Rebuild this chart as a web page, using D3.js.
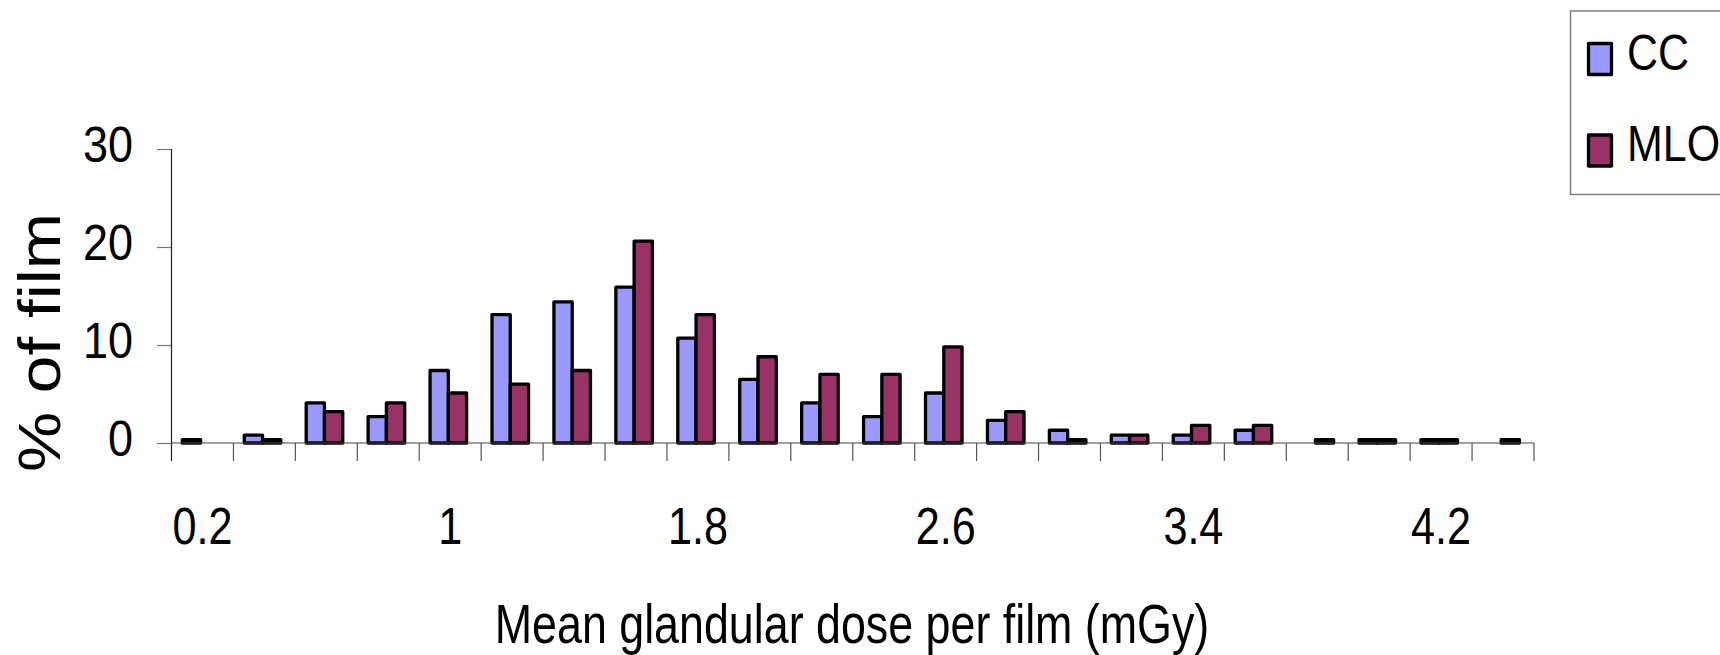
<!DOCTYPE html>
<html>
<head>
<meta charset="utf-8">
<script src="https://cdn.jsdelivr.net/npm/d3@7"></script>
<style>
  html, body { margin: 0; padding: 0; background: #fff; }
  svg { display: block; }
  text { font-family: "Liberation Sans", Arial, sans-serif; fill: #000; }
</style>
</head>
<body>
<script>
// ---- data ----
const categories = ["0.2","0.4","0.6","0.8","1","1.2","1.4","1.6","1.8","2","2.2","2.4","2.6","2.8","3","3.2","3.4","3.6","3.8","4","4.2","4.4"];
const ccValues  = [0.35, 0.8, 4.1, 2.7, 7.4, 13.1, 14.4, 15.9, 10.7, 6.5, 4.1, 2.7, 5.1, 2.3, 1.3, 0.8, 0.8, 1.3, 0, 0.35, 0.35, 0];
const mloValues = [0, 0.35, 3.2, 4.1, 5.1, 6.0, 7.4, 20.6, 13.1, 8.8, 7.0, 7.0, 9.8, 3.2, 0.35, 0.8, 1.8, 1.8, 0.35, 0.35, 0.35, 0.35];
const seriesNames = ["CC", "MLO"];
const seriesColors = ["#9999FF", "#993366"];
const xTickLabels = ["0.2","1","1.8","2.6","3.4","4.2"];
const yTickValues = [0, 10, 20, 30];
const xTitle = "Mean glandular dose per film (mGy)";
const yTitle = "% of film";

// ---- layout ----
const W = 1720, H = 655;
const plot = { left: 171.5, right: 1534, top: 149, bottom: 443 };

const svg = d3.select("body").append("svg").attr("width", W).attr("height", H);

const x = d3.scaleBand().domain(categories).range([plot.left, plot.right]).padding(0);
const y = d3.scaleLinear().domain([0, 30]).range([plot.bottom, plot.top]);
const bw = x.bandwidth();
const barW = bw * 0.295;
const barOff = bw * 0.175;

// helper: horizontally condensed text (matches the narrow lettering of the original)
function ctext(g, str, tx, ty, size, sx, anchor, extra) {
  return g.append("text")
    .attr("transform", `translate(${tx},${ty}) ${extra || ""} scale(${sx},1)`)
    .attr("text-anchor", anchor)
    .style("font-size", size + "px")
    .text(str);
}

// ---- bars ----
const rows = categories.map((c, i) => ({ c, vals: [ccValues[i], mloValues[i]] }));
const barData = [];
rows.forEach(r => r.vals.forEach((v, s) => { if (v > 0) barData.push({ c: r.c, s, v }); }));

svg.append("g").selectAll("rect").data(barData).join("rect")
  .attr("x", d => x(d.c) + barOff + d.s * barW)
  .attr("y", d => y(d.v))
  .attr("width", barW)
  .attr("height", d => y(0) - y(d.v))
  .attr("fill", d => seriesColors[d.s])
  .attr("stroke", "#000")
  .attr("stroke-width", 3.3)
  .attr("stroke-linejoin", "round");

// ---- y axis ----
const yAxis = d3.axisLeft(y).tickValues(yTickValues).tickSize(14.5).tickSizeOuter(0);
const gy = svg.append("g").attr("transform", `translate(${plot.left},0)`).call(yAxis);
gy.select(".domain").remove();
gy.selectAll(".tick line").attr("stroke", "#777").attr("stroke-width", 1.2);
gy.selectAll(".tick text").remove();
gy.selectAll(".tick").each(function(d) {
  ctext(d3.select(this), String(d), -38.5, 12.5, 50, 0.9, "end");
});
svg.append("line")
  .attr("x1", plot.left).attr("x2", plot.left)
  .attr("y1", plot.top).attr("y2", plot.bottom + 18)
  .attr("stroke", "#222").attr("stroke-width", 1.2);

// ---- x axis ----
svg.append("line")
  .attr("x1", plot.left).attr("x2", plot.right)
  .attr("y1", plot.bottom).attr("y2", plot.bottom)
  .attr("stroke", "#444").attr("stroke-width", 1.2);
const boundaries = categories.map(c => x(c)).concat([x.range()[1]]);
svg.append("g").selectAll("line").data(boundaries.slice(1)).join("line")
  .attr("x1", d => d).attr("x2", d => d)
  .attr("y1", plot.bottom).attr("y2", plot.bottom + 18)
  .attr("stroke", "#555").attr("stroke-width", 1.2);

const gxl = svg.append("g");
xTickLabels.forEach(lbl => {
  ctext(gxl, lbl, x(lbl) + bw / 2, 543.5, 52, 0.83, "middle");
});

// ---- titles ----
ctext(svg, xTitle, 852, 643, 56, 0.8, "middle");
ctext(svg, yTitle, 60, 342.5, 59, 1.146, "middle", "rotate(-90)");

// ---- legend ----
const lg = svg.append("g");
lg.append("rect")
  .attr("x", 1570.5).attr("y", 11).attr("width", 170).attr("height", 183.5)
  .attr("fill", "#fff").attr("stroke", "#7f7f7f").attr("stroke-width", 1.5);
const legendRows = [43.5, 135];
seriesNames.forEach((name, i) => {
  lg.append("rect")
    .attr("x", 1588.5).attr("y", legendRows[i]).attr("width", 23).attr("height", 31)
    .attr("fill", seriesColors[i]).attr("stroke", "#000").attr("stroke-width", 3.3)
    .attr("stroke-linejoin", "round");
  ctext(lg, name, 1627, legendRows[i] + 26, 50, 0.86, "start");
});
</script>
</body>
</html>
